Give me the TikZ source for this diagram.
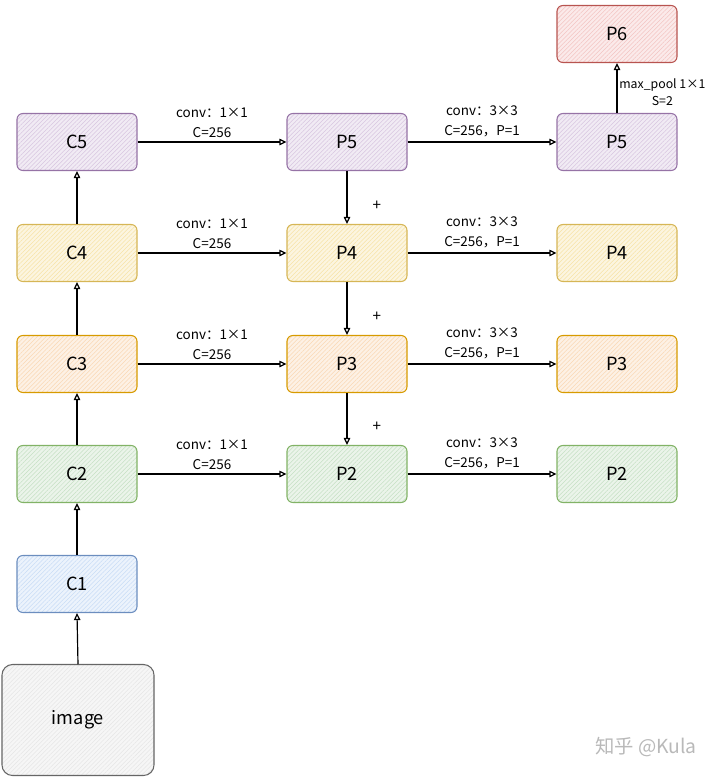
\documentclass[tikz,border=0pt]{standalone}
\usepackage{fontspec}
\setmainfont{Noto Sans CJK SC}
\usepackage{xcolor}
\usetikzlibrary{arrows.meta,patterns.meta}

\definecolor{vioLine}{HTML}{9673A6}
\definecolor{vioFill}{HTML}{D8C6E0}
\definecolor{yelLine}{HTML}{D6B656}
\definecolor{yelFill}{HTML}{F7E3A6}
\definecolor{orgLine}{HTML}{D79B00}
\definecolor{orgFill}{HTML}{FAD8B4}
\definecolor{grnLine}{HTML}{82B366}
\definecolor{grnFill}{HTML}{C6E0C4}
\definecolor{bluLine}{HTML}{6C8EBF}
\definecolor{bluFill}{HTML}{C8DCF6}
\definecolor{gryLine}{HTML}{666666}
\definecolor{gryFill}{HTML}{E6E6E6}
\definecolor{redLine}{HTML}{B85450}
\definecolor{redFill}{HTML}{F3C4C2}

\begin{document}
\begin{tikzpicture}[x=0.03cm, y=-0.03cm,
            layer/.style={rectangle, draw, rounded corners=5pt, line width=0.9pt, minimum width=3.6cm, minimum height=1.71cm, inner sep=0pt, font=\fontsize{15.5}{18}\selectfont},
            tint/.style 2 args={draw=#1, preaction={fill=#2!35!white}, pattern={Lines[angle=45,distance=2.6pt,line width=0.45pt]}, pattern color=#2},
            arrow/.style={line width=1pt, -{Triangle[open,length=6pt,width=5.5pt]}},
            lbl/.style={font=\fontsize{11.5}{17}\selectfont, align=center, inner sep=3.5pt},
            plus/.style={pos=0.65, right=0.75cm, inner sep=0pt, font=\fontsize{13}{15}\selectfont}
        ]
            \useasboundingbox (0,0) rectangle (720,779);

            % Backbone
            \node[layer, tint={gryLine}{gryFill}, minimum width=4.56cm, minimum height=3.33cm, rounded corners=9pt] (img) at (78,720) {image};
            \node[layer, tint={bluLine}{bluFill}] (c1) at (77,584) {C1};
            \node[layer, tint={grnLine}{grnFill}] (c2) at (77,474) {C2};
            \node[layer, tint={orgLine}{orgFill}] (c3) at (77,364) {C3};
            \node[layer, tint={yelLine}{yelFill}] (c4) at (77,253) {C4};
            \node[layer, tint={vioLine}{vioFill}] (c5) at (77,142) {C5};

            % Top-down path
            \node[layer, tint={vioLine}{vioFill}] (p5) at (347,142) {P5};
            \node[layer, tint={yelLine}{yelFill}] (p4) at (347,253) {P4};
            \node[layer, tint={orgLine}{orgFill}] (p3) at (347,364) {P3};
            \node[layer, tint={grnLine}{grnFill}] (p2) at (347,474) {P2};

            % Outputs
            \node[layer, tint={vioLine}{vioFill}] (o5) at (617,142) {P5};
            \node[layer, tint={yelLine}{yelFill}] (o4) at (617,253) {P4};
            \node[layer, tint={orgLine}{orgFill}] (o3) at (617,364) {P3};
            \node[layer, tint={grnLine}{grnFill}] (o2) at (617,474) {P2};
            \node[layer, tint={redLine}{redFill}] (p6) at (617,34) {P6};

            % Bottom-up arrows
            \draw[arrow] (img.north) -- (c1.south);
            \draw[arrow] (c1.north) -- (c2.south);
            \draw[arrow] (c2.north) -- (c3.south);
            \draw[arrow] (c3.north) -- (c4.south);
            \draw[arrow] (c4.north) -- (c5.south);

            % Lateral arrows
            \draw[arrow] (c5.east) -- node[lbl, above] {conv：1×1\\C=256} (p5.west);
            \draw[arrow] (c4.east) -- node[lbl, above] {conv：1×1\\C=256} (p4.west);
            \draw[arrow] (c3.east) -- node[lbl, above] {conv：1×1\\C=256} (p3.west);
            \draw[arrow] (c2.east) -- node[lbl, above] {conv：1×1\\C=256} (p2.west);

            % Top-down arrows
            \draw[arrow] (p5.south) -- node[plus] {+} (p4.north);
            \draw[arrow] (p4.south) -- node[plus] {+} (p3.north);
            \draw[arrow] (p3.south) -- node[plus] {+} (p2.north);

            % Output arrows
            \draw[arrow] (p5.east) -- node[lbl, above] {conv：3×3\\C=256，P=1} (o5.west);
            \draw[arrow] (p4.east) -- node[lbl, above] {conv：3×3\\C=256，P=1} (o4.west);
            \draw[arrow] (p3.east) -- node[lbl, above] {conv：3×3\\C=256，P=1} (o3.west);
            \draw[arrow] (p2.east) -- node[lbl, above] {conv：3×3\\C=256，P=1} (o2.west);
            \draw[arrow] (o5.north) -- node[lbl, right, pos=0.42, inner sep=1.5pt, font=\fontsize{10.5}{14}\selectfont] {max\_pool 1×1\\S=2} (p6.south);

            % Watermark
            \node[text=gray!55, font=\fontsize{16.5}{19}\selectfont] (mark) at (646,747) {知乎 @Kula};

        \end{tikzpicture}
\end{document}
